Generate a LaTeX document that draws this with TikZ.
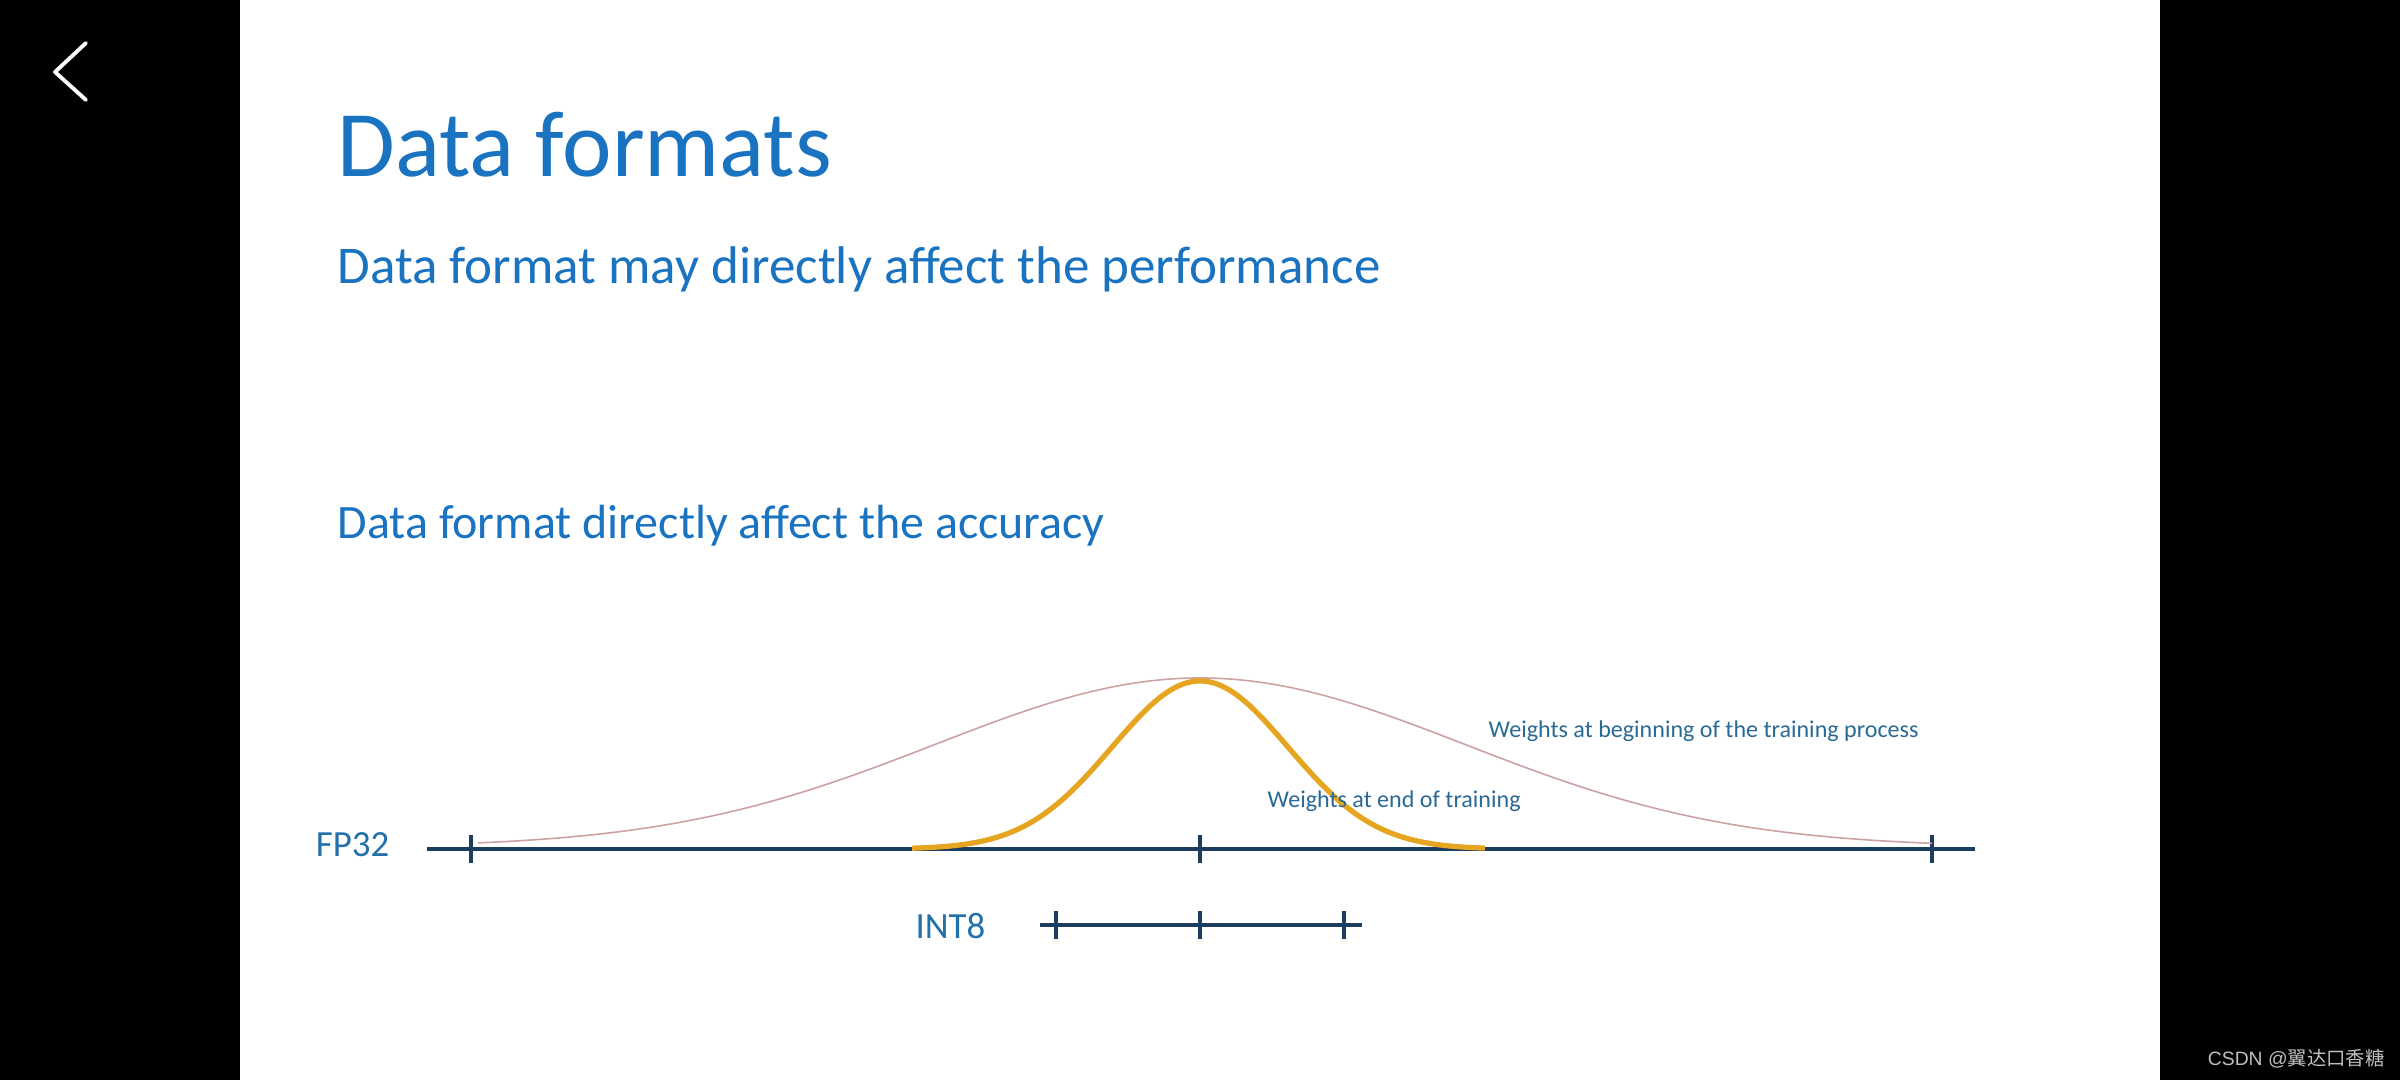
\documentclass[tikz,border=0pt]{standalone}
\usepackage{fontspec}
\setmainfont{Carlito}
\newfontfamily\cjk{Noto Sans CJK SC}
\newfontfamily\wmfont{Liberation Sans}
\definecolor{c1}{RGB}{26,115,192}
\definecolor{c2}{RGB}{28,62,94}
\definecolor{c3}{RGB}{205,160,162}
\definecolor{c4}{RGB}{230,165,32}
\definecolor{c5}{RGB}{42,106,150}
\definecolor{c6}{RGB}{36,112,168}

\begin{document}
\begin{tikzpicture}[
    axisline/.style={draw=c2,line width=0.9pt},
    tickmark/.style={draw=c2,line width=0.9pt},
    lbl/.style={inner sep=0pt,text=c6,font=\fontsize{10.5}{12}\selectfont},
    wlbl/.style={inner sep=0pt,text=c5,font=\fontsize{6.85}{8}\selectfont}]
    \useasboundingbox (0,0) rectangle (24,10.8);
    \fill[white] (0,0) rectangle (24,10.8);
    % screenshot borders
    \fill[black] (0,0) rectangle (2.40,10.8);
    \fill[black] (21.60,0) rectangle (24,10.8);
    \coordinate (K1) at (0.86,10.37);
    \coordinate (K2) at (0.55,10.08);
    \coordinate (K3) at (0.86,9.80);
    \draw[white,line width=1.1pt,line cap=round,line join=round] (K1) -- (K2) -- (K3);
    \node[anchor=base east,inner sep=0pt,text=black!25,font=\wmfont\fontsize{5.5}{6}\selectfont] (wm) at (23.85,0.14) {CSDN @{\cjk 翼达口香糖}};

    % headings
    \node[anchor=base west,inner sep=0pt,text=c1,font=\fontsize{26.7}{30}\selectfont] (title) at (3.37,9.03) {Data formats};
    \node[anchor=base west,inner sep=0pt,text=c1,font=\fontsize{15.1}{17}\selectfont] (perf) at (3.37,7.96) {Data format may directly affect the performance};
    \node[anchor=base west,inner sep=0pt,text=c1,font=\fontsize{13.65}{16}\selectfont] (acc) at (3.37,5.41) {Data format directly affect the accuracy};

    % FP32 axis
    \coordinate (F0) at (4.27,2.31);
    \coordinate (F1) at (4.71,2.31);
    \coordinate (F2) at (12.00,2.31);
    \coordinate (F3) at (19.32,2.31);
    \coordinate (F4) at (19.75,2.31);
    \draw[axisline] (F0) -- (F4);
    \foreach \t in {F1,F2,F3}
        \draw[tickmark] ([yshift=-0.14cm]\t) -- ([yshift=0.14cm]\t);
    \node[lbl,anchor=base east] (fp) at (3.90,2.23) {FP32};

    % INT8 axis
    \coordinate (I0) at (10.40,1.55);
    \coordinate (I1) at (10.56,1.55);
    \coordinate (I2) at (12.00,1.55);
    \coordinate (I3) at (13.44,1.55);
    \coordinate (I4) at (13.62,1.55);
    \draw[axisline] (I0) -- (I4);
    \foreach \t in {I1,I2,I3}
        \draw[tickmark] ([yshift=-0.14cm]\t) -- ([yshift=0.14cm]\t);
    \node[lbl,anchor=base east] (int) at (9.86,1.42) {INT8};

    % weight distributions
    \draw[c3,line width=0.45pt] plot[domain=4.78:19.32,samples=150,smooth] (\x,{2.33+1.69*exp(-((\x-12)^2)/14.05)});
    \draw[c4,line width=1.5pt] plot[domain=9.12:14.85,samples=120,smooth] (\x,{2.31+1.68*exp(-((\x-12)^2)/1.549)});
    \node[wlbl,anchor=base west] (wbeg) at (14.88,3.42) {Weights at beginning of the training process};
    \node[wlbl,anchor=base west] (wend) at (12.67,2.72) {Weights at end of training};
\end{tikzpicture}
\end{document}
